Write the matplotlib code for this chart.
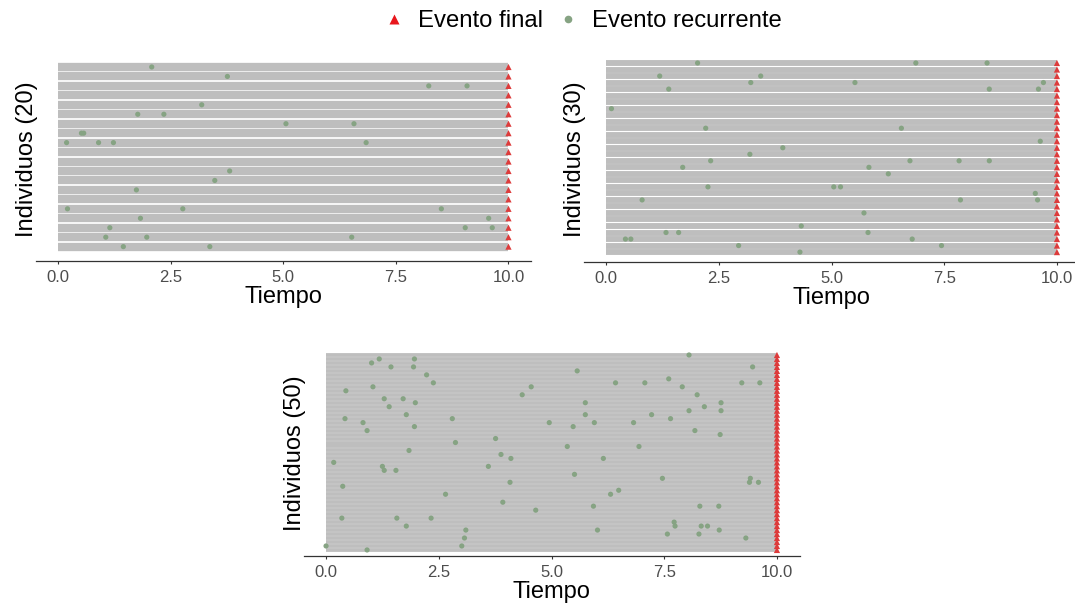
import matplotlib
matplotlib.use("Agg")
import matplotlib.pyplot as plt
from matplotlib.lines import Line2D

plt.rcParams['font.family'] = ['Liberation Sans', 'DejaVu Sans']

# Follow-up end for every individual
end_time = 10.0
x_ticks = [0.0, 2.5, 5.0, 7.5, 10.0]
x_tick_labels = ["0.0", "2.5", "5.0", "7.5", "10.0"]
x_title = "Tiempo"
legend_labels = ["Evento final", "Evento recurrente"]

# Recurrent event times per individual (listed from the top row down)
events_20 = [
    [2.08], [3.76], [8.23, 9.08], [], [3.19],
    [1.77, 2.35], [5.06, 6.57], [0.52, 0.57], [0.19, 0.90, 1.23, 6.84], [],
    [], [3.81], [3.48], [1.74], [],
    [0.21, 2.77, 8.51], [1.83, 9.56], [1.15, 9.04, 9.64], [1.06, 1.97, 6.52], [1.45, 3.37],
]

events_30 = [
    [2.03, 6.87, 8.45], [], [1.19, 3.43], [3.21, 5.52, 9.70], [1.39, 8.50, 9.59],
    [], [], [0.12], [], [],
    [2.21, 6.55], [], [9.63], [3.92], [3.19],
    [2.32, 6.74, 7.83, 8.50], [1.70, 5.83], [6.26], [], [2.26, 5.05, 5.20],
    [9.52], [0.80, 7.86, 9.57], [], [5.72], [],
    [4.33], [1.33, 1.61, 5.81], [0.43, 0.55, 6.79], [2.94, 7.44], [4.30],
]

events_50 = [
    [8.05], [1.18, 1.96], [1.01], [1.44, 1.94, 9.46], [5.57],
    [2.23], [7.60], [2.38, 6.42, 7.07, 9.22, 9.62], [1.04, 4.55, 7.90], [0.44],
    [4.35, 8.23], [1.29, 1.71], [1.98, 5.75, 8.76], [1.40, 8.39], [8.05, 8.76],
    [1.78, 5.75, 7.22], [0.42, 2.80, 7.64], [0.82, 4.95, 5.95, 6.82], [1.96, 5.48], [0.91, 8.18],
    [8.74], [3.76], [2.87], [5.35, 6.94], [1.84],
    [3.88], [4.10, 6.15], [0.17], [1.25, 3.60], [1.29, 1.55],
    [5.51], [7.46, 9.41], [4.08, 9.39, 9.59], [0.37], [6.49],
    [2.65, 6.31], [], [3.92], [5.93, 8.29, 8.71], [4.65],
    [], [0.35, 1.57, 2.33], [7.72], [1.78, 7.74, 8.32, 8.46], [3.10, 6.02, 8.72],
    [7.57, 8.27], [3.07, 9.31], [], [0.0, 3.01], [0.91],
]

# Colours
seg_color = "#BEBEBE"
rec_color = "#86A383"
end_color = "#DD3B3B"
legend_end_color = "#E8161C"
axis_color = "#333333"
tick_label_color = "#4D4D4D"

W, H = 1075, 606
fig = plt.figure(figsize=(W / 100, H / 100), dpi=100)


def add_axes_px(left, right, top, bottom):
    return fig.add_axes([left / W, 1 - bottom / H, (right - left) / W, (bottom - top) / H])


def draw_panel(ax, events, seg_lw_px):
    n = len(events)
    ys = [n - i for i in range(n)]
    ax.hlines(ys, 0, end_time, colors=seg_color, linewidth=seg_lw_px * 0.72, zorder=1)
    px, py = [], []
    for y, times in zip(ys, events):
        for t in times:
            px.append(t)
            py.append(y)
    ax.scatter(px, py, s=14, color=rec_color, edgecolors="none", zorder=3)
    ax.scatter([end_time] * n, ys, s=20, marker="^", color=end_color,
               edgecolors="none", zorder=4)
    ax.set_xlim(-0.5, 10.5)
    ax.set_ylim(1 - 1.52, n + 0.95)
    ax.set_xticks(x_ticks)
    ax.set_xticklabels(x_tick_labels)
    ax.set_yticks([])
    for side in ("top", "right", "left"):
        ax.spines[side].set_visible(False)
    ax.spines["bottom"].set_color(axis_color)
    ax.spines["bottom"].set_linewidth(0.9)
    ax.tick_params(axis="x", direction="out", length=2.5, width=0.8, color=axis_color,
                   labelsize=12, labelcolor=tick_label_color, pad=4)
    ax.set_xlabel(x_title, fontsize=17, labelpad=1, color="black")
    ax.set_ylabel(f"Individuos ({n})", fontsize=17, labelpad=-2, color="black")
    ax.set_facecolor("none")


ax1 = add_axes_px(35.5, 531.0, 58.0, 261.0)
draw_panel(ax1, events_20, 8.3)

ax2 = add_axes_px(583.5, 1079.5, 56.8, 262.0)
draw_panel(ax2, events_30, 5.9)

ax3 = add_axes_px(303.5, 799.5, 351.2, 556.0)
draw_panel(ax3, events_50, 3.8)

handles = [
    Line2D([], [], linestyle="none", marker="^", markersize=6.5,
           markerfacecolor=legend_end_color, markeredgecolor="none"),
    Line2D([], [], linestyle="none", marker="o", markersize=5.5,
           markerfacecolor=rec_color, markeredgecolor="none"),
]
fig.legend(handles, legend_labels, loc="center", bbox_to_anchor=(582 / W, 1 - 21 / H),
           ncol=2, frameon=False, fontsize=17.2, handlelength=1.0,
           handletextpad=0.5, columnspacing=0.55, borderpad=0)

fig.savefig("out.png", dpi=100, facecolor="white")
